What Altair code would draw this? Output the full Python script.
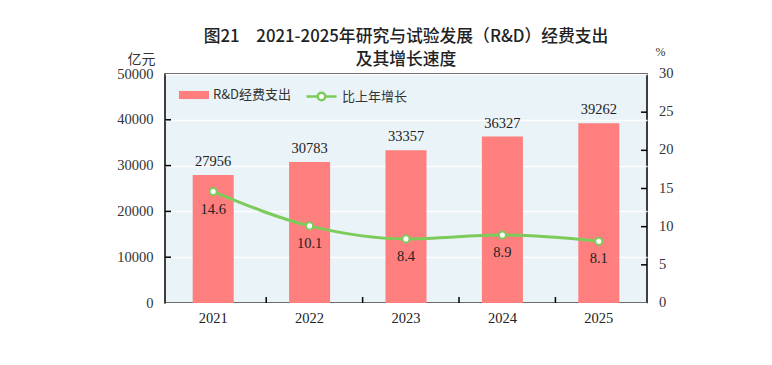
import altair as alt
import pandas as pd

years = ["2021", "2022", "2023", "2024", "2025"]
spending = [27956, 30783, 33357, 36327, 39262]
growth = [14.6, 10.1, 8.4, 8.9, 8.1]
growth_labels = ["14.6", "10.1", "8.4", "8.9", "8.1"]
left_ticks = [10000, 20000, 30000, 40000]
right_ticks = [5, 10, 15, 20, 25]
left_values = [0, 10000, 20000, 30000, 40000, 50000]
right_values = [0, 5, 10, 15, 20, 25, 30]
boundary_years = ["2022", "2023", "2024", "2025"]

BAR = "#FF7F7F"
GREEN = "#7DCB5B"
SERIF = "Liberation Serif"
CJK = "Noto Sans CJK SC"
W, H = 482, 229

df = pd.DataFrame({
    "year": years, "spending": spending, "growth": growth,
    "glabel": growth_labels,
    "s1": ["R&D经费支出"] * 5, "s2": ["比上年增长"] * 5,
})
df_lt = pd.DataFrame({"v": left_ticks})
df_rt = pd.DataFrame({"v": right_ticks})
df_rv = pd.DataFrame({"v": right_values, "t": [str(v) for v in right_values]})
df_xt = pd.DataFrame({"year": boundary_years})

x_axis = alt.Axis(labelAngle=0, ticks=False, domain=False, labelFont=SERIF,
                  labelFontSize=14.5, labelColor="#222", labelPadding=8)
x = alt.X("year:N", title=None, sort=years, axis=x_axis)

yl_scale = alt.Scale(domain=[0, 50000], nice=False)
yr_scale = alt.Scale(domain=[0, 30], nice=False)

yl_axis = alt.Axis(title="亿元", titleAngle=0, titleX=-24, titleY=-8,
                   titleAlign="center", titleBaseline="bottom",
                   titleFont=CJK, titleFontSize=14, titleFontWeight="normal",
                   titleColor="#333", format="d", labelOverlap=False,
                   values=left_values,
                   ticks=False, domain=False, labelFont=SERIF,
                   labelFontSize=14.5, labelColor="#333", labelPadding=12,
                   grid=True, gridColor="white", gridWidth=1.5)

yr_axis = alt.Axis(orient="right", title="%", titleAngle=0, titleX=13, titleY=-16,
                   titleAlign="center", titleBaseline="bottom",
                   titleFont=SERIF, titleFontSize=12, titleFontWeight="normal",
                   titleColor="#333", labels=False, ticks=False, domain=False,
                   grid=False)


def YL(field):
    return alt.Y(field, scale=yl_scale, axis=yl_axis, title="亿元")


def YR(field):
    return alt.Y(field, scale=yr_scale, axis=yr_axis, title="%")


bars = alt.Chart(df).mark_bar(size=41, color=BAR).encode(
    x=x, y=YL("spending:Q"),
    color=alt.Color("s1:N", scale=alt.Scale(domain=["R&D经费支出"], range=[BAR]),
                    legend=alt.Legend(title=None, orient="none", legendX=14, legendY=6,
                                      symbolType="M-1,-0.27H1V0.27H-1Z", symbolSize=900,
                                      symbolStrokeWidth=0, labelFont=CJK,
                                      labelFontSize=13, labelColor="#333")))

bar_text = alt.Chart(df).mark_text(dy=-13, font=SERIF, fontSize=14.5, color="#222").encode(
    x=x, y=YL("spending:Q"), text=alt.Text("spending:Q", format="d"))

lt_rules = alt.Chart(df_lt).mark_rule(color="black", strokeWidth=1.5).encode(
    x=alt.value(0), x2=alt.value(6), y=YL("v:Q"))

xt_rules = alt.Chart(df_xt).mark_rule(color="black", strokeWidth=1.5).encode(
    x=alt.X("year:N", title=None, sort=years, bandPosition=0, axis=x_axis),
    y=alt.value(H - 6), y2=alt.value(H))

line = alt.Chart(df).mark_line(interpolate="monotone", strokeWidth=3).encode(
    x=x, y=YR("growth:Q"),
    stroke=alt.Stroke("s2:N", scale=alt.Scale(domain=["比上年增长"], range=[GREEN]),
                      legend=alt.Legend(title=None, orient="none", legendX=140, legendY=6,
                                        symbolType="M-1,0H-0.25M0.25,0H1M0.25,0A0.25,0.25 0 1,1 -0.25,0A0.25,0.25 0 1,1 0.25,0",
                                        symbolSize=900, symbolStrokeWidth=2.5,
                                        symbolFillColor="white", labelFont=CJK,
                                        labelFontSize=13, labelColor="#333")))

points = alt.Chart(df).mark_point(filled=True, fill="white", stroke=GREEN, size=50,
                                  strokeWidth=2, opacity=1).encode(
    x=x, y=YR("growth:Q"))

line_text = alt.Chart(df).mark_text(dy=18, font=SERIF, fontSize=14.5, color="#222").encode(
    x=x, y=YR("growth:Q"), text="glabel:N")

rt_rules = alt.Chart(df_rt).mark_rule(color="black", strokeWidth=1.5).encode(
    x=alt.value(W - 6), x2=alt.value(W), y=YR("v:Q"))

rt_labels = alt.Chart(df_rv).mark_text(align="left", baseline="middle", font=SERIF,
                                       fontSize=14.5, color="#333").encode(
    x=alt.value(W + 12), y=YR("v:Q"), text="t:N")

left = alt.layer(bars, bar_text, lt_rules, xt_rules)
right = alt.layer(line, points, line_text, rt_rules, rt_labels)

chart = alt.layer(left, right).resolve_scale(y="independent").properties(
    width=W, height=H,
    title=alt.TitleParams(
        text=["图21　2021-2025年研究与试验发展（R&D）经费支出", "及其增长速度"],
        font=CJK, fontSize=16.8, fontWeight=500, color="#222", anchor="middle",
        lineHeight=23, offset=5, dy=29),
    autosize=alt.AutoSizeParams(type="none"),
    padding={"left": 157, "top": 66, "right": 117, "bottom": 54},
).configure_view(fill="#EAF3F7", stroke="black", strokeWidth=1.5)

chart.save("out.html", embed_options={"renderer": "svg", "actions": False})
